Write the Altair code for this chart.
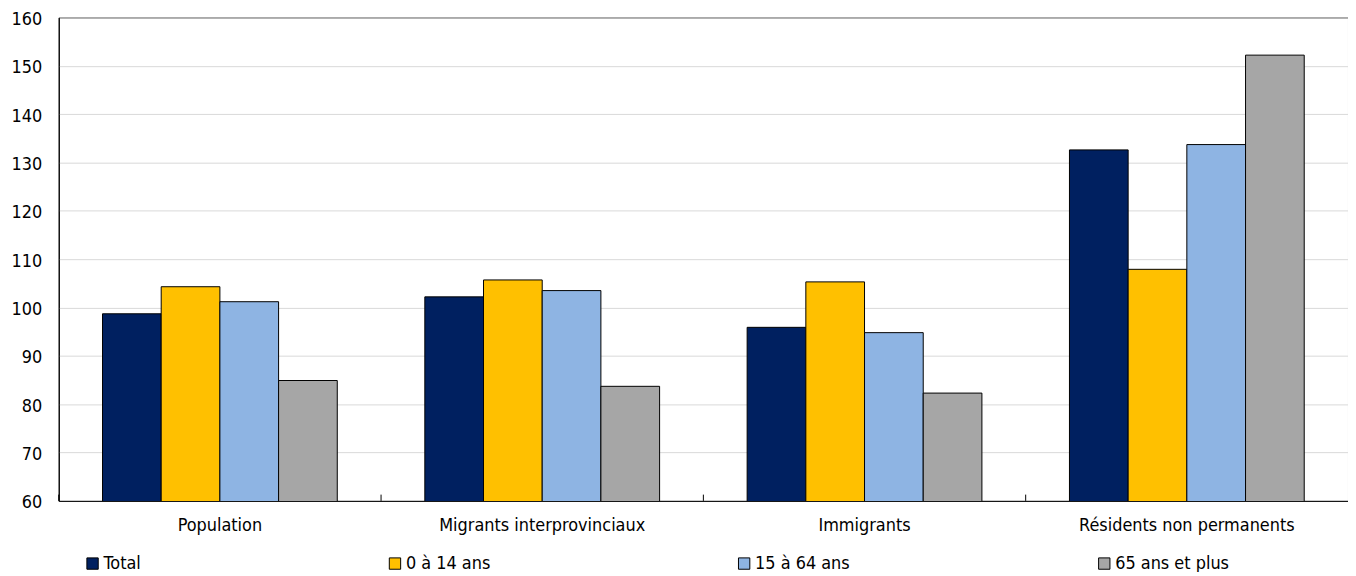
import altair as alt
import pandas as pd

categories = ["Population", "Migrants interprovinciaux", "Immigrants", "Résidents non permanents"]
series = ["Total", "0 à 14 ans", "15 à 64 ans", "65 ans et plus"]
total = [98.7, 102.2, 95.9, 132.6]
age_0_14 = [104.3, 105.7, 105.3, 107.9]
age_15_64 = [101.2, 103.5, 94.8, 133.7]
age_65p = [84.9, 83.7, 82.3, 152.2]
y_ticks = [60, 70, 80, 90, 100, 110, 120, 130, 140, 150, 160]
colors = ["#002060", "#FFC000", "#8EB4E3", "#A6A6A6"]

rows = []
for s, vals in zip(series, [total, age_0_14, age_15_64, age_65p]):
    for c, v in zip(categories, vals):
        rows.append({"cat": c, "series": s, "value": v})
df = pd.DataFrame(rows)
cats_df = pd.DataFrame({"cat": categories})

FONT = "Liberation Sans Narrow, Arial Narrow, DejaVu Sans Condensed, sans-serif"
FS = 18
xscale = alt.Scale(domain=categories, paddingInner=0.2716, paddingOuter=0.1358)
yscale = alt.Scale(domain=[60, 160], nice=False, zero=False)

bars = alt.Chart(df).mark_bar(stroke="black", strokeWidth=1, clip=True).encode(
    x=alt.X("cat:N", scale=xscale, sort=categories,
            axis=alt.Axis(title=None, labelAngle=0, ticks=False, labelFontSize=FS,
                          labelPadding=16, domainColor="black", labelColor="black",
                          labelFont=FONT, labelLimit=0)),
    xOffset=alt.XOffset("series:N", sort=series, scale=alt.Scale(domain=series, paddingInner=0, paddingOuter=0)),
    y=alt.Y("value:Q", scale=yscale,
            axis=alt.Axis(title=None, values=y_ticks, ticks=False, labelFontSize=FS,
                          labelPadding=17, labelOffset=2, domainColor="black", labelColor="black",
                          gridColor="#d9d9d9", labelFont=FONT)),
    color=alt.Color("series:N", sort=series,
                    scale=alt.Scale(domain=series, range=colors),
                    legend=alt.Legend(title=None, orient="none", legendX=25, legendY=540,
                                      direction="horizontal", columns=4, padding=0,
                                      symbolType="square", symbolSize=130,
                                      symbolStrokeColor="black", symbolStrokeWidth=1,
                                      labelFontSize=FS, labelFont=FONT, labelColor="black",
                                      labelLimit=0, columnPadding=246, symbolOffset=0,
                                      labelOffset=2)),
)

ticks = alt.Chart(cats_df).mark_rule(color="black", strokeWidth=1, xOffset=-44).encode(
    x=alt.X("cat:N", scale=xscale, sort=categories, bandPosition=0),
    y=alt.datum(60, scale=yscale),
    y2=alt.datum(61.3),
)

chart = alt.layer(bars, ticks).properties(
    width=1296, height=486,
    autosize=alt.AutoSizeParams(type="none"),
    padding={"left": 51, "top": 8, "right": 0, "bottom": 70},
).configure_view(stroke="black", strokeWidth=1).configure_axis(
    gridWidth=1
)

chart.save("out.html", embed_options={"renderer": "svg", "actions": False})
